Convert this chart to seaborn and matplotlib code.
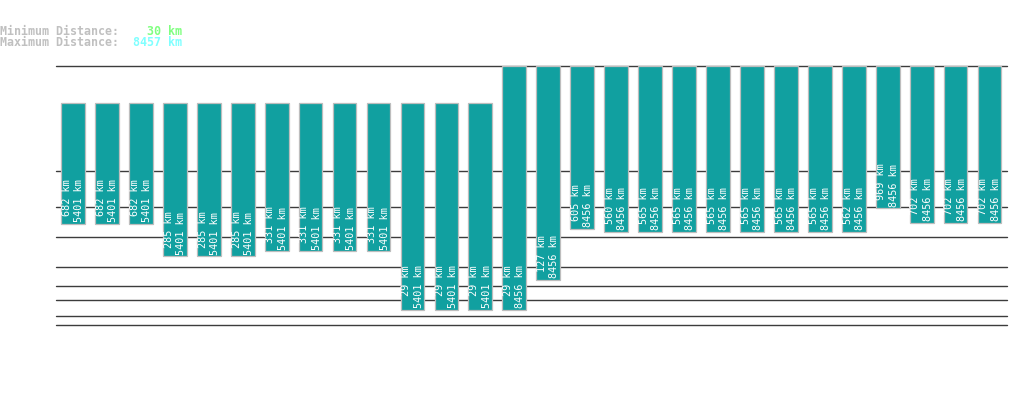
import numpy as np
import pandas as pd
import matplotlib
matplotlib.use("Agg")
import matplotlib.pyplot as plt
import seaborn as sns

# ---- data ----
min_km = [682, 682, 682, 285, 285, 285, 331, 331, 331, 331,
          29, 29, 29, 29, 127, 605, 560, 565, 565, 565, 565, 565, 565,
          562, 969, 702, 702, 702]
max_km = [5401] * 13 + [8456] * 15
grid_km = [10, 20, 50, 100, 200, 500, 1000, 2000, 8457]
overall_min = 30
overall_max = 8457

sns.set_style("white")
plt.rcParams["font.family"] = ["DejaVu Sans Mono", "DejaVu Sans"]

W, H = 1019, 402
fig = plt.figure(figsize=(W / 100, H / 100), dpi=100)
ax = fig.add_axes([56 / W, (H - 326) / H, (1006.5 - 56) / W, (326 - 66.5) / H])

ids = [f"b{i}" for i in range(len(min_km))]
df = pd.DataFrame({"id": ids, "lo": min_km, "hi": max_km})
df["span"] = df["hi"] - df["lo"]

sns.barplot(data=df, x="id", y="span", bottom=df["lo"].to_numpy(), order=ids,
            color="#11a0a0", saturation=1, width=0.7, errorbar=None,
            edgecolor="#bdbdbd", linewidth=0.9, ax=ax)
for patch in ax.patches:
    patch.set_zorder(3)

p = 0.3
ax.set_yscale("function", functions=(lambda v: np.sign(v) * np.abs(v) ** p,
                                     lambda u: np.sign(u) * np.abs(u) ** (1 / p)))
ax.set_ylim(10, overall_max)
ax.set_xlim(-0.5, len(ids) - 0.5)

for g in grid_km:
    ax.axhline(g, color="#3c3c3c", lw=1.0, zorder=1, clip_on=False)

for i, (lo, hi) in enumerate(zip(min_km, max_km)):
    ax.annotate(f"{lo} km\n{hi} km", xy=(i, lo), xytext=(0.0, 2.1),
                textcoords="offset points", rotation=90, ha="center", va="bottom",
                multialignment="right", color="white", fontsize=7.3,
                linespacing=1.3, zorder=5)

for s in ax.spines.values():
    s.set_visible(False)
ax.set_xticks([])
ax.set_yticks([])
ax.minorticks_off()
ax.set_xlabel("")
ax.set_ylabel("")
ax.patch.set_alpha(0)

fs = 8.37
cw = 7 / W
fig.text(0, 1 - 31.7 / H, "Minimum Distance:", color="#c0c0c0", fontsize=fs, va="center", ha="left", weight="bold")
fig.text(21 * cw, 1 - 31.7 / H, f"{overall_min} km", color="#80ff80", fontsize=fs, va="center", ha="left", weight="bold")
fig.text(0, 1 - 42.7 / H, "Maximum Distance:", color="#c0c0c0", fontsize=fs, va="center", ha="left", weight="bold")
fig.text(19 * cw, 1 - 42.7 / H, f"{overall_max} km", color="#80ffff", fontsize=fs, va="center", ha="left", weight="bold")

fig.savefig("out.png", dpi=100)
